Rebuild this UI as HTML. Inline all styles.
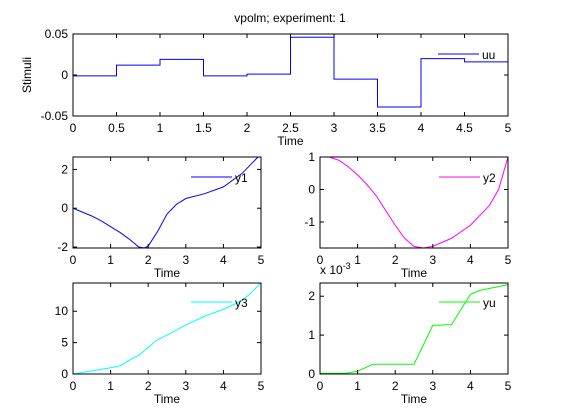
<!DOCTYPE html>
<html><head><meta charset="utf-8"><style>
body{margin:0;background:#fff}
svg{display:block;font-family:"Liberation Sans",sans-serif;font-size:12px}
</style></head><body>
<svg id="fig" width="561" height="420" viewBox="0 0 561 420" xmlns="http://www.w3.org/2000/svg">
<rect width="561" height="420" fill="#fff"/>
<text x="290" y="22" text-anchor="middle">vpolm; experiment: 1</text>
</svg>
<script>
const uuT=[0,0.5,1,1.5,2,2.5,3,3.5,4,4.5,5];
const uuV=[-0.001,0.012,0.019,-0.001,0.001,0.046,-0.005,-0.039,0.020,0.016,0.016];
const y1T=[0,0.25,0.5,0.75,1,1.25,1.5,1.75,1.9,2,2.25,2.5,2.75,3,3.5,4,4.5,5];
const y1V=[0,-0.2,-0.4,-0.65,-0.95,-1.25,-1.6,-2.0,-2.05,-1.95,-1.2,-0.3,0.2,0.5,0.75,1.1,1.8,2.8];
const y2T=[0,0.25,0.5,0.75,1,1.25,1.5,1.75,2,2.25,2.5,2.75,3,3.5,4,4.5,4.75,5];
const y2V=[1.05,1.0,0.9,0.7,0.45,0.15,-0.2,-0.65,-1.1,-1.5,-1.75,-1.8,-1.75,-1.5,-1.1,-0.5,0,1.0];
const y3T=[0,0.5,1,1.25,1.5,1.75,2,2.2,2.5,3,3.5,4,4.5,4.75,5];
const y3V=[0,0.5,1.0,1.3,2.2,3.0,4.2,5.3,6.2,7.8,9.2,10.3,11.7,13,14.6];
const yuT=[0,0.7,1,1.4,2.5,3,3.5,4,4.25,5];
const yuV=[0.02,0.02,0.07,0.25,0.25,1.25,1.27,2.05,2.15,2.3];
const NS='http://www.w3.org/2000/svg';
const svg=document.getElementById('fig');
function mk(tag,attrs,parent){const e=document.createElementNS(NS,tag);for(const k in attrs)e.setAttribute(k,attrs[k]);(parent||svg).appendChild(e);return e;}
let cid=0;
function axes(o){
  const g=mk('g',{});
  
  
  const sx=v=>o.x0+(v-o.xmin)/(o.xmax-o.xmin)*(o.x1-o.x0);
  const sy=v=>o.y1-(v-o.ymin)/(o.ymax-o.ymin)*(o.y1-o.y0);
  mk('rect',{x:o.x0,y:o.y0,width:o.x1-o.x0,height:o.y1-o.y0,fill:'#fff'},g);
  cid++;const cp=mk('clipPath',{id:'c'+cid},g);mk('rect',{x:o.x0,y:o.y0,width:o.x1-o.x0,height:o.y1-o.y0},cp);
  let d='';
  if(o.step){for(let i=0;i<o.t.length;i++){const X=sx(o.t[i]),Y=sy(o.v[i]);if(i==0)d+='M'+X+' '+Y;else d+='H'+X+'V'+Y;}}
  else{o.t.forEach((t,i)=>{d+=(i?'L':'M')+sx(t)+' '+sy(o.v[i]);});}
  const ln=mk('path',{d:d,fill:'none',stroke:o.color,'stroke-width':1,'clip-path':'url(#c'+cid+')'},g);
  
  
  o.xt.forEach(t=>{const X=sx(t);
    mk('line',{x1:X,x2:X,y1:o.y1,y2:o.y1-4,stroke:'#000'},g);mk('line',{x1:X,x2:X,y1:o.y0,y2:o.y0+4,stroke:'#000'},g);
    const tx=mk('text',{x:X,y:o.y1+16,'text-anchor':'middle'},g);tx.textContent=t;
    
    });
  o.yt.forEach((t,i)=>{const Y=sy(t);
    mk('line',{x1:o.x0,x2:o.x0+4,y1:Y,y2:Y,stroke:'#000'},g);mk('line',{x1:o.x1,x2:o.x1-4,y1:Y,y2:Y,stroke:'#000'},g);
    const tx=mk('text',{x:o.x0-5,y:Y+4,'text-anchor':'end'},g);tx.textContent=o.ytl[i];
    
    });
  mk('rect',{x:o.x0,y:o.y0,width:o.x1-o.x0,height:o.y1-o.y0,fill:'none',stroke:'#000'},g);
  const xl=mk('text',{x:(o.x0+o.x1)/2,y:o.y1+29,'text-anchor':'middle'},g);xl.textContent='Time';
  
  
  const lg=mk('g',{},g);
  
  
  mk('line',{x1:o.lx,x2:o.lx+41,y1:o.ly,y2:o.ly,stroke:o.color},lg);
  const lt=mk('text',{x:o.lx+44,y:o.ly+5},lg);lt.textContent=o.series;
  return g;
}
axes({name:'stimuli-axes',series:'uu',color:'#0000ff',x0:73,x1:508,y0:34,y1:116,xmin:0,xmax:5,ymin:-0.05,ymax:0.05,t:uuT,v:uuV,step:true,
  xt:[0,0.5,1,1.5,2,2.5,3,3.5,4,4.5,5],yt:[-0.05,0,0.05],ytl:['-0.05','0','0.05'],lx:438,ly:54});
axes({name:'y1-axes',series:'y1',color:'#0000ff',x0:73,x1:261,y0:157,y1:248,xmin:0,xmax:5,ymin:-2.05,ymax:2.64,t:y1T,v:y1V,
  xt:[0,1,2,3,4,5],yt:[-2,0,2],ytl:['-2','0','2'],lx:191,ly:177});
axes({name:'y2-axes',series:'y2',color:'#ff00ff',x0:320,x1:508,y0:157,y1:248,xmin:0,xmax:5,ymin:-1.8,ymax:1,t:y2T,v:y2V,
  xt:[0,1,2,3,4,5],yt:[-1,0,1],ytl:['-1','0','1'],lx:439,ly:177});
axes({name:'y3-axes',series:'y3',color:'#00ffff',x0:73,x1:261,y0:283,y1:374,xmin:0,xmax:5,ymin:0,ymax:14.5,t:y3T,v:y3V,
  xt:[0,1,2,3,4,5],yt:[0,5,10],ytl:['0','5','10'],lx:191,ly:302});
axes({name:'yu-axes',series:'yu',color:'#00ff00',x0:320,x1:508,y0:283,y1:374,xmin:0,xmax:5,ymin:0,ymax:2.34,t:yuT,v:yuV,
  xt:[0,1,2,3,4,5],yt:[0,1,2],ytl:['0','1','2'],lx:439,ly:302});
const yl=mk('text',{x:0,y:0,transform:'translate(31,75) rotate(-90)','text-anchor':'middle'});yl.textContent='Stimuli';


const ex=mk('text',{x:320,y:274});ex.innerHTML='x 10<tspan dy="-5" font-size="9">-3</tspan>';


</script>
</body></html>
